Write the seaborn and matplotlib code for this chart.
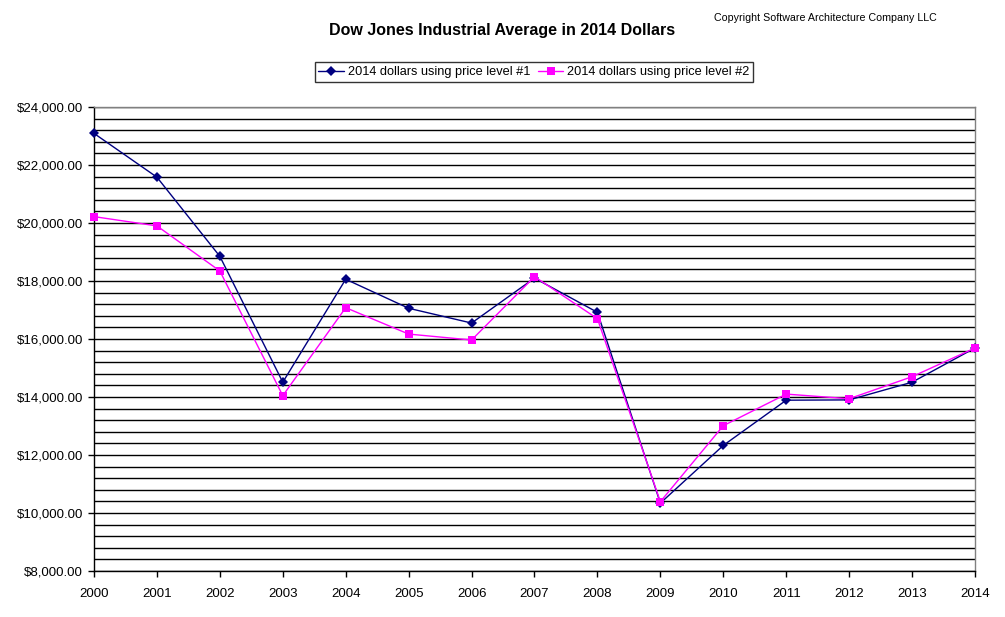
import pandas as pd
import matplotlib
matplotlib.use('Agg')
import matplotlib.pyplot as plt
import seaborn as sns
from matplotlib.ticker import FuncFormatter, MultipleLocator

years = list(range(2000, 2015))
level1 = [23090, 21580, 18850, 14510, 18060, 17060, 16550, 18100, 16920,
          10340, 12330, 13890, 13900, 14510, 15690]
level2 = [20220, 19900, 18345, 14045, 17080, 16170, 15965, 18150, 16700,
          10390, 13010, 14100, 13940, 14700, 15690]
labels = ['2014 dollars using price level #1', '2014 dollars using price level #2']

sns.set_style('white', rc={'text.color': 'black', 'xtick.color': 'black',
                           'ytick.color': 'black', 'axes.labelcolor': 'black'})
plt.rcParams['font.family'] = ['Liberation Sans', 'DejaVu Sans']

fig = plt.figure(figsize=(10.05, 6.17), dpi=100)
ax = fig.add_axes([94 / 1005, 1 - 571 / 617, (975 - 94) / 1005, (571 - 107) / 617])

sns.lineplot(x=years, y=level1, ax=ax, color='#000080', marker='D', markersize=5,
             markeredgewidth=0, linewidth=1, label=labels[0], clip_on=False, zorder=4)
sns.lineplot(x=years, y=level2, ax=ax, color='#FF00FF', marker='s', markersize=6,
             markeredgewidth=0, linewidth=1, label=labels[1], clip_on=False, zorder=5)

ax.set_xlim(2000, 2014)
ax.set_ylim(8000, 24000)
ax.set_xticks(years)
ax.set_xticklabels([str(y) for y in years])
ax.yaxis.set_major_locator(MultipleLocator(2000))
ax.yaxis.set_minor_locator(MultipleLocator(400))
ax.yaxis.set_major_formatter(FuncFormatter(lambda v, p: f'${v:,.2f}'))
ax.grid(True, which='both', axis='y', color='black', linewidth=1)
ax.set_axisbelow(True)
ax.tick_params(axis='both', which='major', direction='out', length=4, width=1,
               color='black', labelcolor='black', labelsize=9.5, left=True, bottom=True)
ax.tick_params(axis='x', pad=8)
ax.tick_params(axis='y', pad=4)
ax.tick_params(axis='y', which='minor', length=0)
ax.set_xlabel('')
ax.set_ylabel('')

for s in ['left', 'bottom']:
    ax.spines[s].set_color('black')
    ax.spines[s].set_linewidth(1)
for s in ['top', 'right']:
    ax.spines[s].set_color('#808080')
    ax.spines[s].set_linewidth(1)

leg = ax.legend(loc='center', bbox_to_anchor=(534 / 1005, 1 - 72 / 617),
                bbox_transform=fig.transFigure, ncol=2, fontsize=9.2, frameon=True,
                fancybox=False, edgecolor='black', handlelength=2.0,
                columnspacing=0.6, handletextpad=0.3, borderpad=0.3,
                labelcolor='black')
leg.get_frame().set_linewidth(1)

fig.text(502 / 1005, 1 - 31 / 617, 'Dow Jones Industrial Average in 2014 Dollars',
         ha='center', va='center', fontsize=11.5, fontweight='bold', color='black')
fig.text(825 / 1005, 1 - 18 / 617, 'Copyright Software Architecture Company LLC',
         ha='center', va='center', fontsize=7.7, color='black')

fig.savefig('out.png', dpi=100, facecolor='white')
